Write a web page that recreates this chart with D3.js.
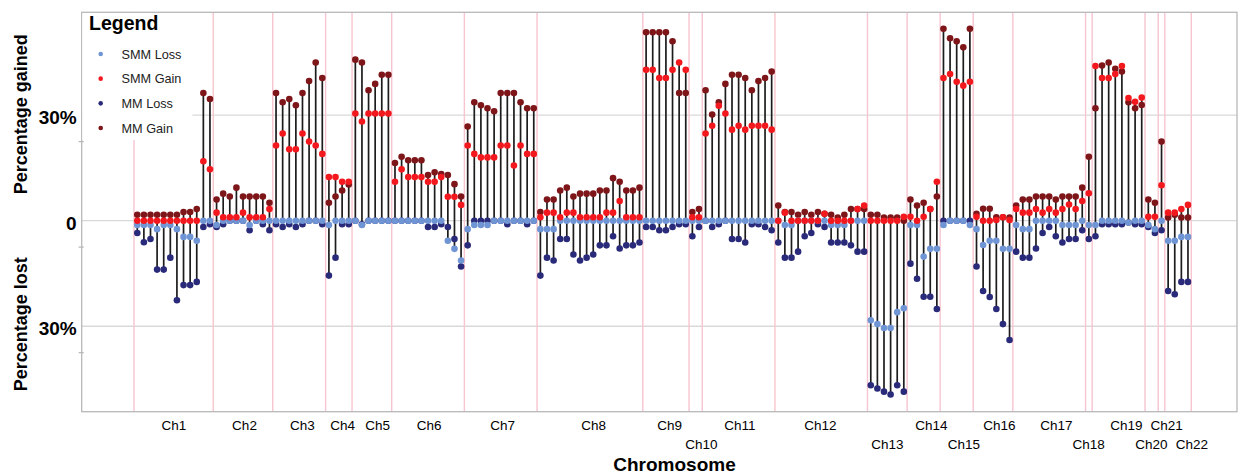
<!DOCTYPE html>
<html>
<head>
<meta charset="utf-8">
<script src="https://cdn.jsdelivr.net/npm/d3@7"></script>
<style>
  html, body { margin: 0; padding: 0; background: #fff; }
  svg { display: block; font-family: "Liberation Sans", Arial, sans-serif; }
</style>
</head>
<body>
<svg id="chart" width="1242" height="474"></svg>
<script>
// ---------------- DATA ----------------
const chromosomes = ["Ch1","Ch2","Ch3","Ch4","Ch5","Ch6","Ch7","Ch8","Ch9","Ch10","Ch11",
  "Ch12","Ch13","Ch14","Ch15","Ch16","Ch17","Ch18","Ch19","Ch20","Ch21","Ch22"];
const pointsPerChrom = [12,9,8,4,6,11,11,16,7,2,11,14,6,5,5,6,11,1,8,2,1,4];
// label position (in point-index units) and row of each chromosome label
const labelPos = [5.45,16.15,24.9,31.0,36.3,44.1,55.2,69.0,80.5,85.3,91.1,
  103.3,113.45,120.1,125.0,130.4,139.0,143.9,149.6,153.4,155.7,159.5];
const labelRow = [0,0,0,0,0,0,0,0,0,1,0,0,1,0,1,0,0,1,0,1,0,1];

// percentage lost (SMM)
const smmLoss = [
  1.2,1.2,1.2,2.4,1.2,1.2,2.4,4.6,4.6,5.7,0,0,            // Ch1
  1.2,0,0,0,0,1.2,0,0,0,                                  // Ch2
  0,0,0,0,0,0,0,0,                                        // Ch3
  1.2,0,0,0,                                              // Ch4
  0,1.2,0,0,0,0,                                          // Ch5
  0,0,0,0,0,0,0,0,5.7,8.0,11.3,                           // Ch6
  2.4,1.2,1.2,1.2,0,0,0,0,0,0,0,                          // Ch7
  2.4,2.4,2.4,0,0,0,0,0,0,0,0,0,0,0,0,0,                  // Ch8
  0,0,0,0,0,0,0,                                          // Ch9
  0,0,                                                    // Ch10
  0,0,0,0,0,0,0,0,0,0,0,                                  // Ch11
  0,1.2,1.2,0,0,0,0,0,1.2,1.2,1.2,0,0,0,                  // Ch12
  28.3,29.4,30.5,30.5,26.0,24.9,                          // Ch13
  1.2,1.2,10.2,8.0,8.0,                                   // Ch14
  1.2,0,0,0,1.2,                                          // Ch15
  2.4,6.9,5.7,5.7,8.0,8.0,                                // Ch16
  1.2,2.4,2.4,0,0,0,0,1.2,1.2,1.2,0,                      // Ch17
  1.2,                                                    // Ch18
  1.2,0,0,0,0,0.5,0,0,                                    // Ch19
  1.2,2.4,                                                // Ch20
  0,                                                      // Ch21
  5.7,5.7,4.6,4.6                                         // Ch22
];
// percentage gained (SMM)
const smmGain = [
  0,0,0,0,0,0,0,0,0,0,16.9,14.6,
  2.3,1.0,1.0,1.0,2.3,1.0,1.0,1.0,3.3,
  21.4,24.8,20.3,20.3,24.8,22.5,21.4,19.0,
  12.4,12.4,11.1,11.1,
  30.5,28.2,30.5,30.5,30.5,30.5,
  11.1,14.6,12.4,12.4,12.4,11.1,11.1,12.4,6.8,6.8,4.5,
  21.4,19.0,18.0,18.0,18.0,21.4,21.4,15.7,21.4,19.0,19.0,
  1.0,2.3,2.3,1.0,2.3,2.3,1.0,1.0,1.0,1.0,2.3,2.3,5.6,1.0,1.0,1.0,
  42.9,42.9,40.6,40.6,42.9,45.0,42.9,
  1.0,1.0,
  24.8,27.0,32.7,30.5,25.9,27.0,25.9,27.0,27.0,27.0,25.9,
  0,2.3,0,0,0,0,0,2.0,0,0,0,0,3.3,4.3,
  0,0,0,0,0,1.1,
  1.1,0,1.1,3.3,11.1,
  40.6,41.7,39.5,38.4,39.5,
  1.1,0,0,0.2,1.0,0.2,
  3.3,2.3,2.3,3.3,2.3,3.3,2.3,3.3,4.6,3.3,5.6,
  7.8,
  44.0,40.6,40.6,41.7,44.0,34.9,33.8,35.0,
  1.1,1.1,
  10.1,
  2.3,2.3,3.3,4.5
];
// percentage lost (MM)
const mmLoss = [
  3.5,6.1,5.2,13.9,13.9,10.5,22.6,18.3,18.3,17.4,1.8,1.0,
  1.8,1.0,0,0,0,2.7,0,1.0,2.7,
  1.0,1.8,1.0,1.8,1.0,0,0,1.0,
  15.6,10.5,1.0,1.0,
  0,1.0,0,0,0,0,
  0,0,0,0,0,1.8,1.8,1.0,1.8,5.2,13.0,
  7.0,0,0,0,0,0,1.0,0,0,1.0,0,
  15.6,10.5,11.3,5.2,5.2,9.6,11.3,10.5,9.6,7.0,7.0,4.4,7.9,7.0,7.0,6.2,
  1.8,1.8,2.7,2.7,1.8,1.0,1.0,
  4.4,1.8,
  0,1.8,1.0,0,5.2,5.2,6.2,1.0,1.0,1.8,2.7,
  6.2,10.5,10.5,8.8,4.4,3.5,1.0,1.8,6.2,6.2,6.2,7.0,8.8,8.8,
  46.8,47.7,48.6,49.4,46.8,48.6,
  12.2,16.5,21.6,21.6,25.1,
  0,0,0,0,0,
  13.0,20.0,21.7,25.1,29.4,33.9,
  8.8,10.5,10.5,7.9,3.5,1.8,4.4,6.2,5.2,5.2,2.7,
  5.2,
  4.4,1.0,1.0,1.0,1.0,0.5,1.0,1.0,
  1.8,3.5,
  2.7,
  20.0,20.9,17.4,17.4
];
// percentage gained (MM)
const mmGain = [
  1.7,1.7,1.7,1.7,1.7,1.7,1.7,2.5,2.5,3.3,36.3,34.6,
  6.0,7.7,6.9,9.4,6.9,6.9,6.9,6.9,5.1,
  36.3,33.7,34.6,32.8,36.3,39.7,45.0,40.6,
  5.1,6.9,8.6,10.3,
  45.8,45.0,37.1,38.9,41.5,41.5,
  16.4,18.2,17.2,17.2,17.2,13.0,13.8,13.3,13.0,10.4,6.9,
  26.8,33.7,32.8,32.0,31.1,36.3,36.3,36.3,33.7,32.0,32.0,
  2.5,6.0,6.0,8.6,9.4,6.9,7.7,7.7,7.7,8.6,8.6,12.1,11.1,8.6,8.6,9.4,
  53.6,53.6,53.6,53.6,51.0,36.3,36.3,
  2.5,3.3,
  37.1,30.2,33.7,38.9,41.5,41.5,40.6,37.1,39.7,40.6,42.4,
  4.3,2.5,2.5,1.7,2.5,1.7,2.5,2.0,1.7,0.9,1.7,3.3,3.3,3.3,
  1.7,1.7,0.9,0.9,0.9,0,
  6.0,4.3,5.1,3.3,6.9,
  54.6,51.9,51.0,49.3,54.6,
  2.0,3.4,3.4,1.0,1.0,0.9,
  4.3,6.0,6.0,6.9,6.9,6.9,6.0,6.9,6.9,6.9,9.4,
  18.2,
  32.0,44.1,45.0,43.2,42.4,33.7,32.0,32.9,
  6.0,5.1,
  22.5,
  0.9,1.7,0.9,0.9
];

const yTickValues = [30, 0, -30];
const yTickLabels = ["30%", "0", "30%"];
const yMinorTicks = [22.5, -7.5, -37.5];
const seriesNames = ["SMM Loss", "SMM Gain", "MM Loss", "MM Gain"];

// ---------------- CHART ----------------
const svg = d3.select("#chart");
const P = { left: 81.7, top: 12.3, right: 1237, bottom: 411.7 };
const colors = { "SMM Loss": "#6f95d5", "SMM Gain": "#f2181d", "MM Loss": "#2a2a7a", "MM Gain": "#7d1519" };

const n = smmLoss.length;
const x = d3.scaleLinear().domain([-8.41, 166.42]).range([P.left, P.right]);
const y = d3.scaleLinear().domain([-54.3, 59.26]).range([P.bottom, P.top]);

svg.append("rect").attr("width", 1242).attr("height", 474).attr("fill", "#fff");

// horizontal grid lines
svg.append("g").selectAll("line").data(yTickValues).join("line")
  .attr("x1", P.left).attr("x2", P.right)
  .attr("y1", d => y(d)).attr("y2", d => y(d))
  .attr("stroke", "#d9d9d9").attr("stroke-width", 1.3);

// chromosome boundaries
const starts = [];
let acc = 0;
pointsPerChrom.forEach(c => { starts.push(acc); acc += c; });
const bounds = starts.map(s => s - 0.5).concat([acc - 0.5]);
svg.append("g").selectAll("line").data(bounds).join("line")
  .attr("x1", d => x(d)).attr("x2", d => x(d))
  .attr("y1", P.top).attr("y2", P.bottom)
  .attr("stroke", "#f7c5cf").attr("stroke-width", 1.4);

// frame
svg.append("rect")
  .attr("x", P.left).attr("y", P.top)
  .attr("width", P.right - P.left).attr("height", P.bottom - P.top)
  .attr("fill", "none").attr("stroke", "#b8b8b8").attr("stroke-width", 1.3);

// minor ticks
svg.append("g").selectAll("line").data(yMinorTicks).join("line")
  .attr("x1", P.left - 3).attr("x2", P.left + 2)
  .attr("y1", d => y(d)).attr("y2", d => y(d))
  .attr("stroke", "#b8b8b8").attr("stroke-width", 1.3);

// data rows
const rows = d3.range(n).map(i => {
  const vals = [smmGain[i], mmGain[i], -smmLoss[i], -mmLoss[i]];
  return { i, lo: d3.min(vals), hi: d3.max(vals) };
});

// stems
svg.append("g").selectAll("line").data(rows).join("line")
  .attr("x1", d => x(d.i)).attr("x2", d => x(d.i))
  .attr("y1", d => y(d.lo)).attr("y2", d => y(d.hi))
  .attr("stroke", "#1c1c1c").attr("stroke-width", 1.7);

// points (MM first, SMM on top)
const layers = [
  { name: "MM Loss", vals: mmLoss.map(v => -v) },
  { name: "MM Gain", vals: mmGain },
  { name: "SMM Loss", vals: smmLoss.map(v => -v) },
  { name: "SMM Gain", vals: smmGain }
];
layers.forEach(L => {
  svg.append("g").selectAll("circle").data(L.vals).join("circle")
    .attr("cx", (d, i) => x(i)).attr("cy", d => y(d))
    .attr("r", 3.3).attr("fill", colors[L.name]);
});

// y axis labels
const yAxis = d3.axisLeft(y).tickValues(yTickValues)
  .tickFormat((d, i) => yTickLabels[i]).tickSize(0).tickPadding(5);
const gy = svg.append("g").attr("transform", `translate(${P.left},0)`).call(yAxis);
gy.select(".domain").remove();
gy.selectAll("text").attr("font-family", "Liberation Sans, Arial, sans-serif")
  .attr("font-size", 19).attr("font-weight", "bold").attr("fill", "#000").attr("dy", "0.45em");

// x axis labels
const xAxis = d3.axisBottom(x).tickValues(labelPos)
  .tickFormat((d, i) => chromosomes[i]).tickSize(0);
const gx = svg.append("g").attr("transform", `translate(0,${P.bottom})`).call(xAxis);
gx.select(".domain").remove();
gx.selectAll("text").attr("font-family", "Liberation Sans, Arial, sans-serif")
  .attr("font-size", 13.5).attr("fill", "#000")
  .attr("dy", 0).attr("y", (d, i) => labelRow[i] === 0 ? 18.5 : 37.8);

// axis titles
svg.append("text").attr("x", 674.5).attr("y", 470.5).attr("text-anchor", "middle")
  .attr("font-size", 19).attr("font-weight", "bold").text("Chromosome");
svg.append("text").attr("transform", `translate(26.5,${y(30) - 1}) rotate(-90)`)
  .attr("text-anchor", "middle").attr("font-size", 18).attr("font-weight", "bold")
  .text("Percentage gained");
svg.append("text").attr("transform", `translate(26.5,${y(-30) - 2}) rotate(-90)`)
  .attr("text-anchor", "middle").attr("font-size", 18).attr("font-weight", "bold")
  .text("Percentage lost");

// legend
const lg = svg.append("g");
lg.append("rect").attr("x", P.left + 0.7).attr("y", P.top + 0.7)
  .attr("width", 110).attr("height", 127).attr("fill", "#fff");
lg.append("text").attr("x", 89).attr("y", 30).attr("font-size", 19.5)
  .attr("font-weight", "bold").text("Legend");
const legY = d3.scalePoint().domain(seriesNames).range([54, 128]);
seriesNames.forEach(s => {
  lg.append("circle").attr("cx", 100.7).attr("cy", legY(s)).attr("r", 2.3).attr("fill", colors[s]);
  lg.append("text").attr("x", 121.5).attr("y", legY(s)).attr("dy", "0.36em")
    .attr("font-size", 12.7).attr("fill", "#222").text(s);
});
</script>
</body>
</html>
